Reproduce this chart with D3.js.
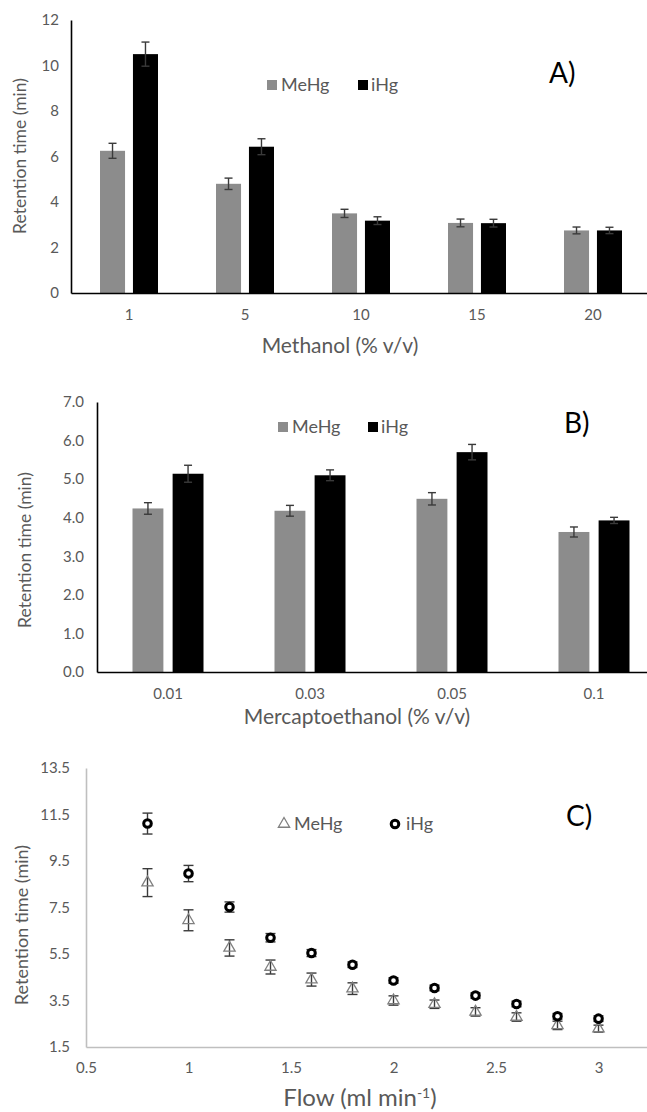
<!DOCTYPE html>
<html>
<head>
<meta charset="utf-8">
<script src="https://cdn.jsdelivr.net/npm/d3@7"></script>
<style>
  body { margin: 0; background: #fff; }
  svg text { font-family: Lato, "Open Sans", sans-serif; }
</style>
</head>
<body>
<script>
// ---- data ----
// A) methanol
const methanolCats = ["1", "5", "10", "15", "20"];
const methanolMeHg = [6.25, 4.8, 3.5, 3.08, 2.75];
const methanolMeHgErr = [0.33, 0.25, 0.18, 0.17, 0.15];
const methanolIHg = [10.5, 6.43, 3.18, 3.07, 2.75];
const methanolIHgErr = [0.53, 0.35, 0.17, 0.17, 0.14];
const methanolTicks = [0, 2, 4, 6, 8, 10, 12];

// B) mercaptoethanol
const mercaptoCats = ["0.01", "0.03", "0.05", "0.1"];
const mercaptoMeHg = [4.24, 4.18, 4.49, 3.63];
const mercaptoMeHgErr = [0.15, 0.14, 0.16, 0.13];
const mercaptoIHg = [5.14, 5.1, 5.7, 3.93];
const mercaptoIHgErr = [0.22, 0.14, 0.2, 0.08];
const mercaptoTicks = [0, 1, 2, 3, 4, 5, 6, 7];

// C) flow
const flow = [0.8, 1.0, 1.2, 1.4, 1.6, 1.8, 2.0, 2.2, 2.4, 2.6, 2.8, 3.0];
const flowMeHg = [8.57, 6.95, 5.76, 4.94, 4.4, 4.01, 3.5, 3.34, 3.01, 2.79, 2.43, 2.29];
const flowMeHgErr = [0.6, 0.45, 0.35, 0.3, 0.28, 0.25, 0.2, 0.18, 0.18, 0.18, 0.18, 0.15];
const flowIHg = [11.11, 8.96, 7.52, 6.2, 5.54, 5.04, 4.36, 4.04, 3.71, 3.35, 2.82, 2.72];
const flowIHgErr = [0.45, 0.35, 0.22, 0.18, 0.15, 0.12, 0.12, 0.12, 0.12, 0.12, 0.12, 0.12];
const flowYTicks = [1.5, 3.5, 5.5, 7.5, 9.5, 11.5, 13.5];
const flowXTicks = [0.5, 1, 1.5, 2, 2.5, 3];

const series = ["MeHg", "iHg"];
const seriesColor = { MeHg: "#8c8c8c", iHg: "#000000" };
const textGrey = "#595959";
const errColor = "#3a3a3a";

var svg = d3.select("body").append("svg")
    .attr("width", 647)
    .attr("height", 1112);

// generic grouped bar panel with error bars
function barPanel(o) {
    var g = svg.append("g");

    var x0 = d3.scaleBand()
        .domain(o.cats)
        .range([o.left, o.right])
        .paddingInner(0.5)
        .paddingOuter(0.25);
    var x1 = d3.scaleBand()
        .domain(series)
        .range([0, x0.bandwidth()])
        .paddingInner(o.gap);
    var y = d3.scaleLinear()
        .domain([0, o.ticks[o.ticks.length - 1]])
        .range([o.bottom, o.top]);

    var rows = [];
    o.cats.forEach(function (c, i) {
        rows.push({ cat: c, s: "MeHg", v: o.meHg[i], e: o.meHgErr[i] });
        rows.push({ cat: c, s: "iHg", v: o.iHg[i], e: o.iHgErr[i] });
    });

    g.selectAll("rect.bar").data(rows).enter().append("rect")
        .attr("class", "bar")
        .attr("x", d => x0(d.cat) + x1(d.s))
        .attr("y", d => y(d.v))
        .attr("width", x1.bandwidth())
        .attr("height", d => y(0) - y(d.v))
        .attr("fill", d => seriesColor[d.s]);

    // error bars
    var eb = g.selectAll("g.err").data(rows).enter().append("g")
        .attr("class", "err")
        .attr("stroke", errColor)
        .attr("stroke-width", 1.4);
    var cx = d => x0(d.cat) + x1(d.s) + x1.bandwidth() / 2;
    eb.append("line")
        .attr("x1", cx).attr("x2", cx)
        .attr("y1", d => y(d.v + d.e)).attr("y2", d => y(d.v - d.e));
    eb.append("line")
        .attr("x1", d => cx(d) - 4).attr("x2", d => cx(d) + 4)
        .attr("y1", d => y(d.v + d.e)).attr("y2", d => y(d.v + d.e));
    eb.append("line")
        .attr("x1", d => cx(d) - 4).attr("x2", d => cx(d) + 4)
        .attr("y1", d => y(d.v - d.e)).attr("y2", d => y(d.v - d.e));

    // axes
    var yAxis = g.append("g")
        .attr("transform", "translate(" + o.left + ",0)")
        .call(d3.axisLeft(y).tickValues(o.ticks).tickSize(0).tickPadding(o.tickPad)
            .tickFormat(o.fmt));
    yAxis.select(".domain").attr("stroke", "#000").attr("stroke-width", 1.6);
    yAxis.selectAll("text").attr("fill", textGrey).style("font-size", "15px");

    var xAxis = g.append("g")
        .attr("transform", "translate(0," + o.bottom + ")")
        .call(d3.axisBottom(x0).tickSize(0).tickPadding(16));
    xAxis.select(".domain").attr("stroke", "#000").attr("stroke-width", 1.6);
    xAxis.selectAll("text").attr("fill", textGrey).style("font-size", "15px");

    // titles
    g.append("text")
        .attr("transform", "translate(" + o.yTitleX + "," + o.yTitleY + ") rotate(-90)")
        .attr("text-anchor", "middle")
        .attr("dy", "0.35em")
        .attr("fill", textGrey)
        .style("font-size", "17.5px")
        .text("Retention time (min)");
    g.append("text")
        .attr("x", o.xTitleX).attr("y", o.xTitleY)
        .attr("text-anchor", "middle")
        .attr("dy", "0.35em")
        .attr("fill", textGrey)
        .style("font-size", "21px")
        .text(o.xTitle);

    // legend
    var lg = g.append("g").attr("transform", "translate(" + o.legX + "," + o.legY + ")");
    lg.append("rect").attr("x", 0).attr("y", -5).attr("width", 10).attr("height", 10).attr("fill", seriesColor.MeHg);
    lg.append("text").attr("x", 14).attr("dy", "0.35em").attr("fill", textGrey).style("font-size", "18px").text("MeHg");
    lg.append("rect").attr("x", o.legGap).attr("y", -5).attr("width", 10).attr("height", 10).attr("fill", seriesColor.iHg);
    lg.append("text").attr("x", o.legGap + 13).attr("dy", "0.35em").attr("fill", textGrey).style("font-size", "18px").text("iHg");

    g.append("text")
        .attr("x", o.tagX).attr("y", o.tagY)
        .attr("dy", "0.35em")
        .attr("fill", "#000")
        .style("font-size", "28px")
        .text(o.tag);
}

barPanel({
    cats: methanolCats, meHg: methanolMeHg, meHgErr: methanolMeHgErr,
    iHg: methanolIHg, iHgErr: methanolIHgErr, ticks: methanolTicks,
    fmt: d3.format("d"), left: 71, right: 651, top: 20, bottom: 293, gap: 0.24, tickPad: 12,
    yTitleX: 20, yTitleY: 156, xTitleX: 340, xTitleY: 346, xTitle: "Methanol (% v/v)",
    legX: 267, legY: 85, legGap: 91, tag: "A)", tagX: 549, tagY: 73
});

barPanel({
    cats: mercaptoCats, meHg: mercaptoMeHg, meHgErr: mercaptoMeHgErr,
    iHg: mercaptoIHg, iHgErr: mercaptoIHgErr, ticks: mercaptoTicks,
    fmt: d3.format(".1f"), left: 97, right: 665, top: 402, bottom: 672, gap: 0.23, tickPad: 13,
    yTitleX: 25, yTitleY: 550, xTitleX: 357, xTitleY: 717, xTitle: "Mercaptoethanol (% v/v)",
    legX: 278, legY: 427, legGap: 90, tag: "B)", tagX: 564, tagY: 423
});

// ---- C) scatter with error bars ----
(function () {
    var g = svg.append("g");
    var left = 86, bottom = 1047, top = 768;
    var x = d3.scaleLinear().domain([0.5, 3.5]).range([left, left + 615]);
    var y = d3.scaleLinear().domain([1.5, 13.5]).range([bottom, top]);

    var yAxis = g.append("g")
        .attr("transform", "translate(" + left + ",0)")
        .call(d3.axisLeft(y).tickValues(flowYTicks).tickSize(0).tickPadding(16).tickFormat(d3.format(".1f")));
    yAxis.select(".domain").attr("stroke", "#bfbfbf").attr("stroke-width", 1.6);
    yAxis.selectAll("text").attr("fill", textGrey).style("font-size", "15px");

    var xAxis = g.append("g")
        .attr("transform", "translate(0," + bottom + ")")
        .call(d3.axisBottom(x).tickValues(flowXTicks).tickSize(0).tickPadding(15).tickFormat(d => d));
    xAxis.select(".domain").attr("stroke", "#bfbfbf").attr("stroke-width", 1.6);
    xAxis.selectAll("text").attr("fill", textGrey).style("font-size", "15px");

    var meRows = flow.map((f, i) => ({ f: f, v: flowMeHg[i], e: flowMeHgErr[i] }));
    var iRows = flow.map((f, i) => ({ f: f, v: flowIHg[i], e: flowIHgErr[i] }));

    function errBars(rows) {
        var eb = g.append("g").attr("stroke", errColor).attr("stroke-width", 1.4)
            .selectAll("g").data(rows).enter().append("g");
        eb.append("line")
            .attr("x1", d => x(d.f)).attr("x2", d => x(d.f))
            .attr("y1", d => y(d.v + d.e)).attr("y2", d => y(d.v - d.e));
        eb.append("line")
            .attr("x1", d => x(d.f) - 5).attr("x2", d => x(d.f) + 5)
            .attr("y1", d => y(d.v + d.e)).attr("y2", d => y(d.v + d.e));
        eb.append("line")
            .attr("x1", d => x(d.f) - 5).attr("x2", d => x(d.f) + 5)
            .attr("y1", d => y(d.v - d.e)).attr("y2", d => y(d.v - d.e));
    }

    var tri = d3.symbol().type(d3.symbolTriangle).size(55);

    errBars(meRows);
    g.append("g").selectAll("path").data(meRows).enter().append("path")
        .attr("d", tri)
        .attr("transform", d => "translate(" + x(d.f) + "," + y(d.v) + ")")
        .attr("fill", "none")
        .attr("stroke", "#808080")
        .attr("stroke-width", 1.3);

    errBars(iRows);
    g.append("g").selectAll("circle").data(iRows).enter().append("circle")
        .attr("cx", d => x(d.f))
        .attr("cy", d => y(d.v))
        .attr("r", 3.8)
        .attr("fill", "#fff")
        .attr("stroke", "#000")
        .attr("stroke-width", 3);

    g.append("text")
        .attr("transform", "translate(22,925) rotate(-90)")
        .attr("text-anchor", "middle").attr("dy", "0.35em")
        .attr("fill", textGrey).style("font-size", "18px")
        .text("Retention time (min)");

    var xt = g.append("text")
        .attr("x", 360).attr("y", 1106)
        .attr("text-anchor", "middle")
        .attr("fill", textGrey).style("font-size", "24px");
    xt.append("tspan").text("Flow (ml min");
    xt.append("tspan").attr("baseline-shift", "super").style("font-size", "14px").text("-1");
    xt.append("tspan").text(")");

    // legend
    var lg = g.append("g").attr("transform", "translate(284,824)");
    lg.append("path").attr("d", tri).attr("fill", "none").attr("stroke", "#808080").attr("stroke-width", 1.3);
    lg.append("text").attr("x", 10).attr("dy", "0.35em").attr("fill", textGrey).style("font-size", "18px").text("MeHg");
    lg.append("circle").attr("cx", 111).attr("r", 3.8).attr("fill", "#fff").attr("stroke", "#000").attr("stroke-width", 3);
    lg.append("text").attr("x", 122).attr("dy", "0.35em").attr("fill", textGrey).style("font-size", "18px").text("iHg");

    g.append("text")
        .attr("x", 566).attr("y", 816).attr("dy", "0.35em")
        .attr("fill", "#000").style("font-size", "28px")
        .text("C)");
})();
</script>
</body>
</html>
